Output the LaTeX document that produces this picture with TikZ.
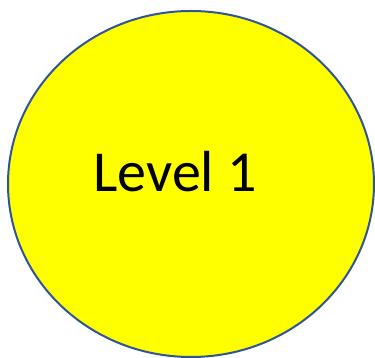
\documentclass[tikz,border=0pt]{standalone}
\usepackage{fontspec}
\setmainfont{Carlito}
\usetikzlibrary{shapes.geometric, positioning}
\definecolor{levelblue}{HTML}{2F5597}
\definecolor{levelyellow}{HTML}{FFFF00}
\tikzset{
  levelshape/.style={ellipse, draw=levelblue, fill=levelyellow, line width=2pt, minimum width=366pt, minimum height=346pt, inner sep=0pt},
  leveltext/.style={font=\fontsize{58}{60}\selectfont, text=black, inner sep=0pt, anchor=base},
}
\begin{document}
\begin{tikzpicture}[x=1pt, y=1pt]
  \useasboundingbox (0,0) rectangle (375,358);
  \node[levelshape] (lvl) at (191,174) {};
  \node[leveltext] (lbl) at (175,166) {Level 1};
\end{tikzpicture}
\end{document}
